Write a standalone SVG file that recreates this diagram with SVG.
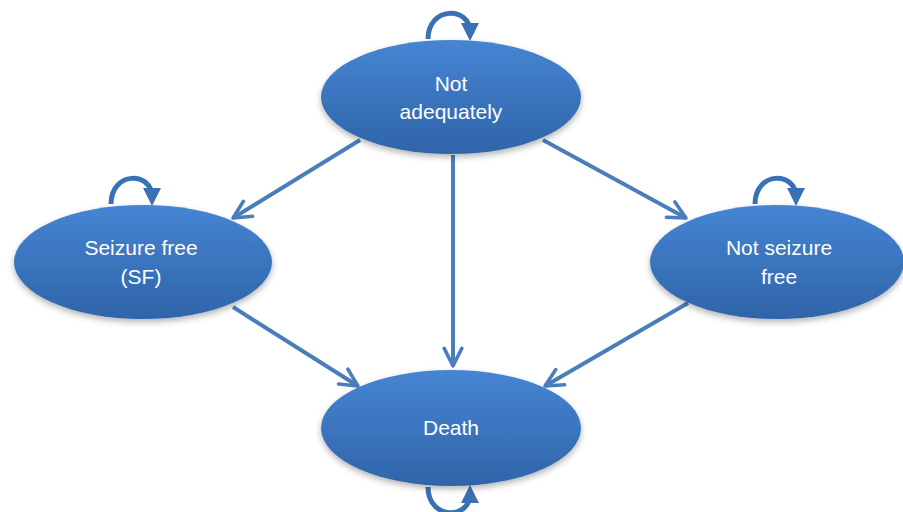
<svg xmlns="http://www.w3.org/2000/svg" width="903" height="512" viewBox="0 0 903 512">
<defs>
<linearGradient id="g" x1="0" y1="0" x2="0" y2="1">
<stop offset="0" stop-color="#4685d3"/>
<stop offset="1" stop-color="#2f64a8"/>
</linearGradient>
<filter id="sh" x="-10%" y="-10%" width="120%" height="130%">
<feDropShadow dx="0" dy="3" stdDeviation="3" flood-color="#000" flood-opacity="0.3"/>
</filter>
<marker id="ah" viewBox="0 0 10 10" refX="9" refY="5" markerWidth="5.5" markerHeight="5.5" orient="auto" markerUnits="strokeWidth">
<path d="M1,1 L9,5 L1,9" fill="none" stroke="#4a7ebb" stroke-width="1.6" stroke-linecap="round" stroke-linejoin="round"/>
</marker>
<marker id="lh" viewBox="0 0 10 10" refX="5" refY="5" markerWidth="3.6" markerHeight="3.6" orient="auto" markerUnits="strokeWidth">
<path d="M0,0 L10,5 L0,10 Z" fill="#3a70b4"/>
</marker>
</defs>
<style>
.node ellipse{fill:url(#g);filter:url(#sh)}
.node text{font-family:"Liberation Sans",Arial,sans-serif;font-size:21px;fill:#fff;text-anchor:middle}
.edge{stroke:#4a7ebb;stroke-width:4;fill:none;marker-end:url(#ah)}
.loop{stroke:#3a70b4;stroke-width:5;fill:none;marker-end:url(#lh)}
</style>
<g id="connectors">
<line class="edge" x1="360" y1="140" x2="233" y2="218"/>
<line class="edge" x1="453" y1="155" x2="453" y2="366"/>
<line class="edge" x1="543" y1="140" x2="686" y2="218"/>
<line class="edge" x1="233" y1="307" x2="358" y2="386"/>
<line class="edge" x1="688" y1="303" x2="545" y2="386"/>
<path class="loop" d="M428,39 C428,6 470,6 470,32"/>
<path class="loop" d="M111,204 C111,171 152,171 152,197"/>
<path class="loop" d="M755,204 C755,171 796,171 796,197"/>
<path class="loop" d="M428,487 C428,520 470,520 470,494"/>
</g>
<g id="not-adequately" class="node">
<ellipse cx="451" cy="97" rx="130" ry="57"/>
<text x="451" y="91">Not</text>
<text x="451" y="119">adequately</text>
</g>
<g id="seizure-free" class="node">
<ellipse cx="143" cy="262" rx="129" ry="57"/>
<text x="141" y="255">Seizure free</text>
<text x="141" y="284">(SF)</text>
</g>
<g id="not-seizure-free" class="node">
<ellipse cx="777" cy="262" rx="127" ry="57"/>
<text x="779" y="255">Not seizure</text>
<text x="779" y="284">free</text>
</g>
<g id="death" class="node">
<ellipse cx="451" cy="428" rx="130" ry="58"/>
<text x="451" y="435">Death</text>
</g>
</svg>
